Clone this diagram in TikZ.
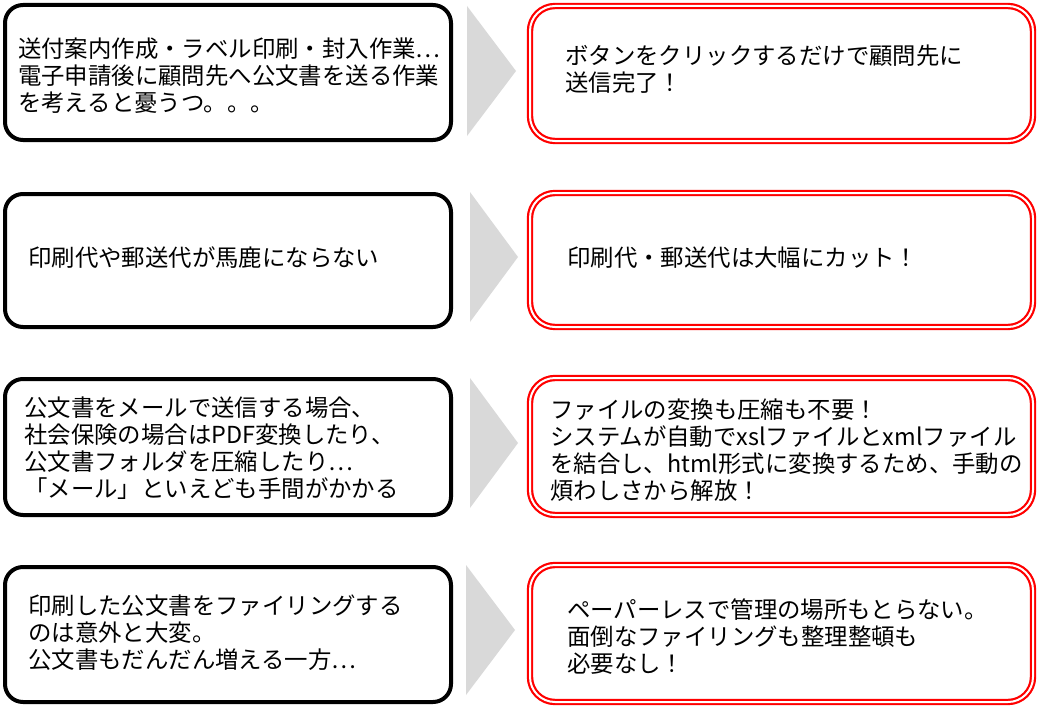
\documentclass[tikz,border=0pt]{standalone}
\usepackage{fontspec}
\newfontfamily\jp{Noto Sans CJK JP}
\begin{document}
\begin{tikzpicture}[x=1pt,y=-1pt,
  lbox/.style={draw=black,line width=4pt,rounded corners=18pt,fill=white},
  rbox/.style={draw=red,line width=2.2pt,double=white,double distance=2pt,rounded corners=25pt},
  chev/.style={fill=black!15,draw=none},
  txt/.style={anchor=west,align=left,inner sep=0pt,font=\jp\fontsize{23.4}{27}\selectfont}]
\useasboundingbox[fill=white] (0,0) rectangle (1039,709);
% row 1
\draw[lbox] (5,5) rectangle (451,140);
\fill[chev] (467,6) -- (516,71) -- (467,136) -- cycle;
\draw[rbox] (530,6) rectangle (1033,141);
\node[txt] (l1) at (18,76) {送付案内作成・ラベル印刷・封入作業…\\電子申請後に顧問先へ公文書を送る作業\\を考えると憂うつ。。。};
\node[txt] (r1) at (565,69) {ボタンをクリックするだけで顧問先に\\送信完了！};
% row 2
\draw[lbox] (5,194) rectangle (451,327);
\fill[chev] (470,192) -- (518,257) -- (470,322) -- cycle;
\draw[rbox] (530,193) rectangle (1033,327);
\node[txt] (l2) at (28,258) {印刷代や郵送代が馬鹿にならない};
\node[txt] (r2) at (567,258) {印刷代・郵送代は大幅にカット！};
% row 3
\draw[lbox] (5,379) rectangle (451,515);
\fill[chev] (470,378) -- (518,443) -- (470,508) -- cycle;
\draw[rbox] (530,378) rectangle (1033,515);
\node[txt] (l3) at (24,448) {公文書をメールで送信する場合、\\社会保険の場合はPDF変換したり、\\公文書フォルダを圧縮したり…\\「メール」といえども手間がかかる};
\node[txt] (r3) at (550,450) {ファイルの変換も圧縮も不要！\\システムが自動でxslファイルとxmlファイル\\を結合し、html形式に変換するため、手動の\\煩わしさから解放！};
% row 4
\draw[lbox] (5,567) rectangle (451,702);
\fill[chev] (466,565) -- (515,630) -- (466,695) -- cycle;
\draw[rbox] (530,565) rectangle (1033,702);
\node[txt] (l4) at (28,633) {印刷した公文書をファイリングする\\のは意外と大変。\\公文書もだんだん増える一方…};
\node[txt] (r4) at (567,637) {ペーパーレスで管理の場所もとらない。\\面倒なファイリングも整理整頓も\\必要なし！};
\end{tikzpicture}
\end{document}
